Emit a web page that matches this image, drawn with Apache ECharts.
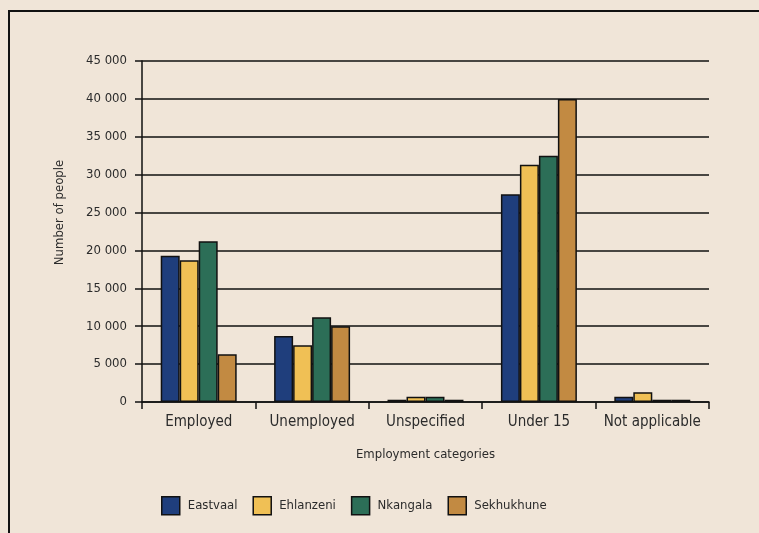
<!DOCTYPE html>
<html>
<head>
<meta charset="utf-8">
<script src="https://cdn.jsdelivr.net/npm/echarts@6/dist/echarts.min.js"></script>
<style>
  html, body { margin: 0; padding: 0; background: #f0e5d8; }
  #frame {
    position: absolute; left: 8px; top: 10px; width: 800px; height: 600px;
    border-left: 2px solid #111; border-top: 2px solid #111; box-sizing: border-box;
  }
  #main { position: absolute; left: 0; top: 0; width: 759px; height: 533px; }
</style>
</head>
<body>
<div id="frame"></div>
<div id="main"></div>
<script>
  // 数据
  var categories = ['Employed', 'Unemployed', 'Unspecified', 'Under 15', 'Not applicable'];
  var eastvaal = [19300, 8700, 300, 27400, 700];
  var ehlanzeni = [18700, 7500, 700, 31300, 1300];
  var nkangala = [21200, 11200, 700, 32500, 300];
  var sekhukhune = [6300, 10000, 300, 40000, 300];
  var seriesNames = ['Eastvaal', 'Ehlanzeni', 'Nkangala', 'Sekhukhune'];
  var colors = ['#1f3e7c', '#f0c055', '#2c6e57', '#c28a42'];

  var font = '"DejaVu Sans Condensed", "Liberation Sans Narrow", "DejaVu Sans", sans-serif';
  var chart = echarts.init(document.getElementById('main'));

  function fmt(v) {
    return String(v).replace(/\B(?=(\d{3})+(?!\d))/g, ' ');
  }

  var values = [eastvaal, ehlanzeni, nkangala, sekhukhune];
  var series = seriesNames.map(function (name, i) {
    return {
      name: name,
      type: 'bar',
      data: values[i],
      barGap: 0,
      barCategoryGap: '33%',
      itemStyle: { color: colors[i], borderColor: '#111', borderWidth: 1.5 }
    };
  });

  var option = {
    animation: false,
    textStyle: { fontFamily: font, color: '#2b2b2b' },
    grid: { left: 142, right: 50, top: 61, bottom: 131 },
    legend: {
      data: seriesNames,
      left: 161,
      top: 496,
      padding: 0,
      itemWidth: 18,
      itemHeight: 18,
      itemGap: 15,
      icon: 'rect',
      itemStyle: { borderColor: '#111', borderWidth: 1.5 },
      textStyle: { fontFamily: font, fontSize: 13, color: '#2b2b2b', padding: [0, 0, 0, 3] }
    },
    xAxis: {
      type: 'category',
      data: categories,
      name: 'Employment categories',
      nameLocation: 'middle',
      nameGap: 46,
      nameTextStyle: { fontFamily: font, fontSize: 13, color: '#2b2b2b' },
      axisLine: { lineStyle: { color: '#111', width: 1.5 } },
      axisTick: { show: true, length: 7, lineStyle: { color: '#111', width: 1.5 } },
      axisLabel: { fontFamily: font, fontSize: 15, color: '#2b2b2b', margin: 13, interval: 0 }
    },
    yAxis: {
      type: 'value',
      min: 0,
      max: 45000,
      interval: 5000,
      name: 'Number of people',
      nameLocation: 'middle',
      nameGap: 76,
      nameTextStyle: { fontFamily: font, fontSize: 13, color: '#2b2b2b', padding: [0, 0, 0, 38] },
      axisLine: { show: true, lineStyle: { color: '#111', width: 1.5 } },
      axisTick: { show: true, length: 7, lineStyle: { color: '#111', width: 1.5 } },
      axisLabel: { fontFamily: font, fontSize: 13, color: '#2b2b2b', margin: 15, formatter: fmt },
      splitLine: { lineStyle: { color: '#111', width: 1.5 } }
    },
    series: series
  };
  chart.setOption(option);
</script>
</body>
</html>
